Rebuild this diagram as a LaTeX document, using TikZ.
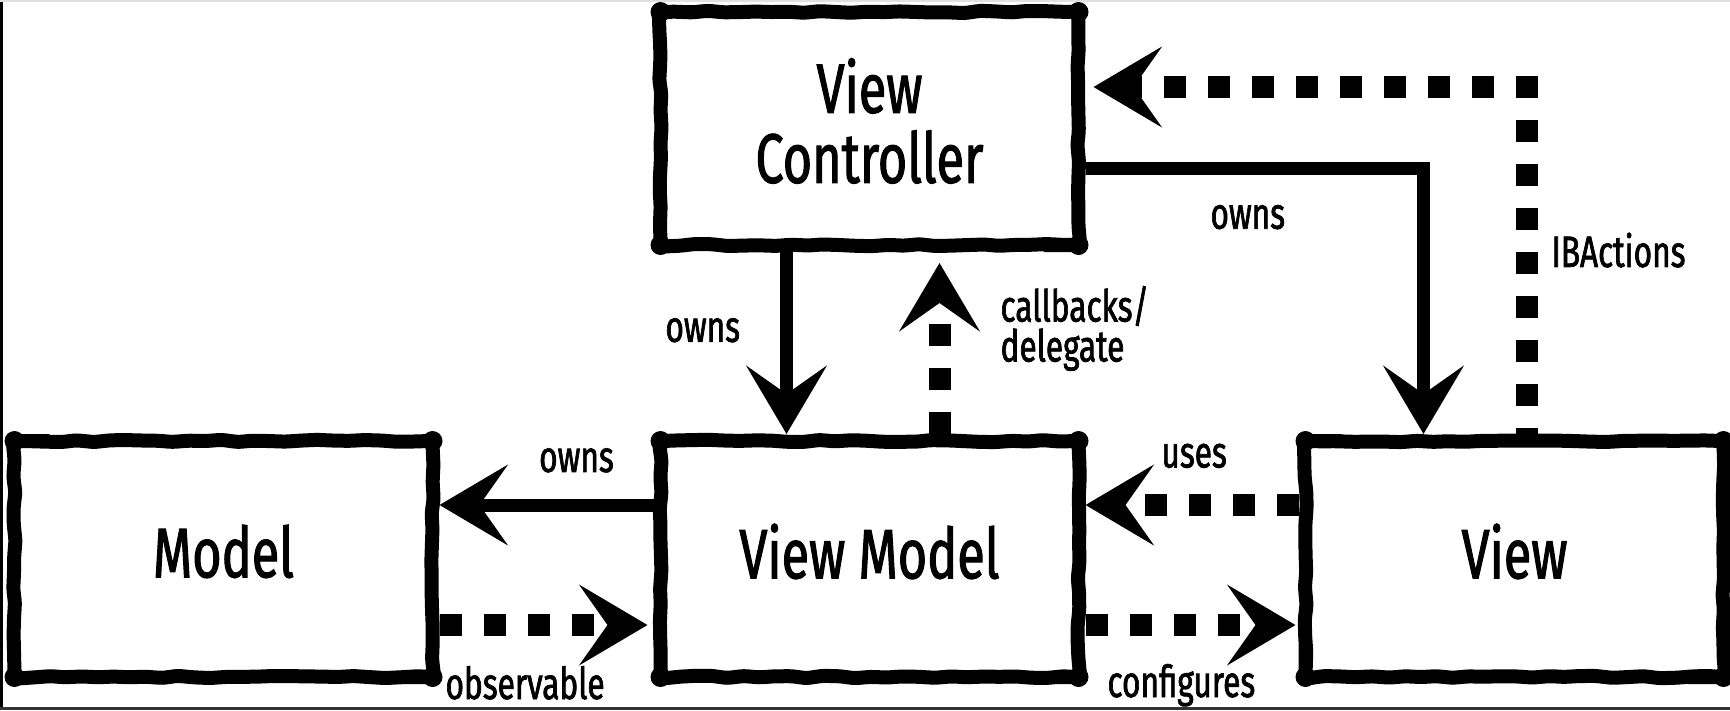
\documentclass[tikz,border=0pt]{standalone}
\usepackage{fontspec}
\setmainfont{Fira Sans}[FakeStretch=0.72, FakeBold=1.5]
\usetikzlibrary{arrows.meta, positioning, decorations.pathmorphing}

\tikzset{
  box/.style={draw, line width=14pt, minimum width=418pt, minimum height=236pt,
    inner sep=0pt, text depth=16pt, align=center,
    decorate, decoration={random steps, segment length=16pt, amplitude=1.2pt},
    rounded corners=3pt, font=\fontsize{70}{70}\selectfont},
  lbl/.style={inner sep=0pt, align=left, font=\fontsize{44}{40}\selectfont},
  ownarrow/.style={line width=13pt, -{Stealth[length=68pt, width=80pt, inset=28pt]}},
  dotarrow/.style={line width=22pt, dash pattern=on 22pt off 22pt,
    -{Stealth[length=68pt, width=80pt, inset=28pt]}},
}

\begin{document}
\begin{tikzpicture}[x=1pt, y=-1pt]
\pgfmathsetseed{3}
\fill[white] (0,0) rectangle (1730,710);
\useasboundingbox (0,0) rectangle (1730,710);
% frame
\fill[black] (0,0) rectangle (3,710);
\fill[black!12] (0,0) rectangle (1730,2);
\fill[black!80] (0,707) rectangle (1730,710);

% boxes
\node[box] (model) at (223.5,559) {Model};
\node[box, right=214pt of model] (vm) {View Model};
\node[box, right=213pt of vm] (view) {View};
\node[box, minimum height=233pt, above=182pt of vm] (vc) {View\\Controller};

% blobs at the corners
\foreach \b in {model, vm, view, vc}
  \foreach \c/\dx/\dy in {north west/1/-1, north east/-1/-1, south west/1/1, south east/-1/1}
    \fill ([xshift=\dx*7pt, yshift=\dy*7pt]\b.\c) circle (10pt);

% connectors
\draw[ownarrow] ([xshift=-83pt]vc.south) -- node[lbl, pos=0.43, left=40pt] (lownsvm) {owns} ([xshift=-83pt]vm.north);
\draw[dotarrow, shorten >=11pt] ([xshift=70pt]vm.north) -- node[lbl, pos=0.58, right=50pt] (lcall) {callbacks/\\delegate} ([xshift=70pt]vc.south);
\draw[ownarrow] ([yshift=-40pt]vc.east) -| node[lbl, pos=0.24, below=30pt] (lownsview) {owns} ([xshift=-91pt]view.north);
\draw[dotarrow, dash phase=16pt, shorten >=8pt] ([xshift=12pt]view.north) |- node[lbl, pos=0.265, right=14pt] (libact) {IBActions} ([yshift=41.5pt]vc.east);
\draw[ownarrow] ([yshift=54pt]vm.west) -- node[lbl, pos=0.36, above=26pt] (lownsmodel) {owns} ([yshift=54pt]model.east);
\draw[dotarrow, shorten >=6pt] ([yshift=-66pt]model.east) -- node[lbl, pos=0.4, below=30pt] (lobs) {observable} ([yshift=-66pt]vm.west);
\draw[dotarrow] ([yshift=54pt]view.west) -- node[lbl, pos=0.49, above=26pt] (luses) {uses} ([yshift=54pt]vm.east);
\draw[dotarrow, shorten >=3pt] ([yshift=-66pt]vm.east) -- node[lbl, pos=0.45, below=28pt] (lconf) {configures} ([yshift=-66pt]view.west);
\end{tikzpicture}
\end{document}
